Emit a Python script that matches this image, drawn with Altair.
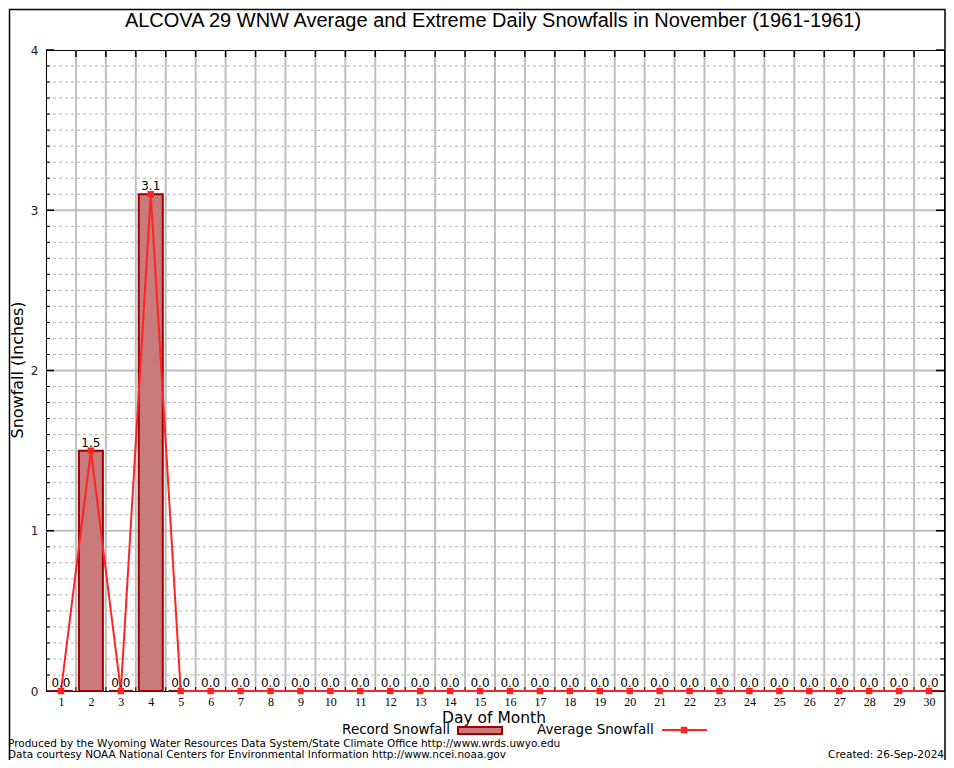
import altair as alt
import pandas as pd

# ---------------- data ----------------
days = [1, 2, 3, 4, 5, 6, 7, 8, 9, 10, 11, 12, 13, 14, 15,
        16, 17, 18, 19, 20, 21, 22, 23, 24, 25, 26, 27, 28, 29, 30]
record = [0.0, 1.5, 0.0, 3.1, 0.0, 0.0, 0.0, 0.0, 0.0, 0.0,
          0.0, 0.0, 0.0, 0.0, 0.0, 0.0, 0.0, 0.0, 0.0, 0.0,
          0.0, 0.0, 0.0, 0.0, 0.0, 0.0, 0.0, 0.0, 0.0, 0.0]
average = [0.0, 1.5, 0.0, 3.1, 0.0, 0.0, 0.0, 0.0, 0.0, 0.0,
           0.0, 0.0, 0.0, 0.0, 0.0, 0.0, 0.0, 0.0, 0.0, 0.0,
           0.0, 0.0, 0.0, 0.0, 0.0, 0.0, 0.0, 0.0, 0.0, 0.0]
y_major = [0, 1, 2, 3, 4]
y_minor = [round(i * 0.1, 1) for i in range(1, 40) if i % 10 != 0]
x_bounds = [d + 0.5 for d in days[:-1]]

title_text = "ALCOVA 29 WNW Average and Extreme Daily Snowfalls in November (1961-1961)"
footer1 = "Produced by the Wyoming Water Resources Data System/State Climate Office http://www.wrds.uwyo.edu"
footer2 = "Data courtesy NOAA National Centers for Environmental Information http://www.ncei.noaa.gov"
created = "Created: 26-Sep-2024"

W, H = 898, 641
RED = "#ff2424"
BAR_FILL = "#c97a7a"
BAR_STROKE = "#a00000"
GRID = "#bebebe"
SANS = "DejaVu Sans"

df = pd.DataFrame({"day": days, "record": record, "average": average,
                   "label": [f"{v:.1f}" for v in record]})

xs = alt.Scale(domain=[0.5, 30.5], nice=False, zero=False, padding=0)
ys = alt.Scale(domain=[0, 4], nice=False, zero=True, padding=0)
xaxis = alt.Axis(values=days, ticks=False, grid=False, title=None,
                 labelFont="Liberation Serif", labelFontSize=12, labelColor="black",
                 labelPadding=5, domainColor="black", domainWidth=1,
                 labelOverlap=False, labelFlush=False)
yaxis = alt.Axis(values=y_major, ticks=False, grid=False, title=None, format="d",
                 labelFont=SANS, labelFontSize=12, labelColor="#222",
                 labelPadding=8, domainColor="black", domainWidth=1)


def X(field):
    return alt.X(field, type="quantitative", scale=xs, axis=xaxis)


def Y(field):
    return alt.Y(field, type="quantitative", scale=ys, axis=yaxis)


minor_df = pd.DataFrame({"y": y_minor})
major_df = pd.DataFrame({"y": y_major[1:-1]})
major_tick_df = pd.DataFrame({"y": y_major})
bounds_df = pd.DataFrame({"x": x_bounds})

minor_grid = alt.Chart(minor_df).mark_rule(color="#b4b4b4", strokeDash=[3, 3], strokeWidth=1).encode(y=Y("y"))
major_grid = alt.Chart(major_df).mark_rule(color=GRID, strokeWidth=2).encode(y=Y("y"))
vert_grid = alt.Chart(bounds_df).mark_rule(color=GRID, strokeWidth=2).encode(x=X("x"))

top_ticks = alt.Chart(bounds_df).mark_rule(color="black", strokeWidth=1.5).encode(
    x=X("x"), y=alt.value(0), y2=alt.value(7))
bot_ticks = alt.Chart(bounds_df).mark_rule(color="black", strokeWidth=1).encode(
    x=X("x"), y=alt.value(H), y2=alt.value(H - 4))
left_minor = alt.Chart(minor_df).mark_rule(color="black", strokeWidth=1).encode(
    y=Y("y"), x=alt.value(0), x2=alt.value(4))
left_major = alt.Chart(major_tick_df).mark_rule(color="black", strokeWidth=1.5).encode(
    y=Y("y"), x=alt.value(0), x2=alt.value(8))
right_minor = alt.Chart(minor_df).mark_rule(color="black", strokeWidth=1).encode(
    y=Y("y"), x=alt.value(W - 4), x2=alt.value(W))
right_major = alt.Chart(major_tick_df).mark_rule(color="black", strokeWidth=1.5).encode(
    y=Y("y"), x=alt.value(W - 8), x2=alt.value(W))

bars = alt.Chart(df).mark_bar(size=24, fill=BAR_FILL, stroke=BAR_STROKE, strokeWidth=2).encode(
    x=X("day"), y=Y("record"))
line = alt.Chart(df).mark_line(color=RED, strokeWidth=2).encode(x=X("day"), y=Y("average"))
pts = alt.Chart(df).mark_point(shape="square", filled=True, color=RED, size=42, opacity=1).encode(
    x=X("day"), y=Y("average"))
labels = alt.Chart(df).mark_text(font=SANS, fontSize=12, baseline="alphabetic", dy=-4, color="black").encode(
    x=X("day"), y=Y("record"), text="label:N")


def txt(text, x, y, size=12, align="left", font=SANS, angle=0, color="black", baseline="alphabetic"):
    kw = dict(text=text, font=font, fontSize=size, align=align, baseline=baseline, color=color)
    if angle:
        kw["angle"] = angle
    return alt.Chart(df.head(1)).mark_text(**kw).encode(x=alt.value(x), y=alt.value(y))


title = txt(title_text, 447, -23, size=20, align="center", font="Liberation Sans")
ytitle = txt("Snowfall (Inches)", -28, 320, size=16, align="center", angle=270, baseline="middle")
xtitle = txt("Day of Month", 448, 673, size=15.5, align="center")
leg1 = txt("Record Snowfall", 404, 684, size=13.5, align="right")
leg2 = txt("Average Snowfall", 491, 684, size=13.5, align="left")
swatch = alt.Chart(df.head(1)).mark_rect(fill=BAR_FILL, stroke=BAR_STROKE, strokeWidth=2).encode(
    x=alt.value(412), x2=alt.value(456), y=alt.value(677), y2=alt.value(684))
leg_line = alt.Chart(df.head(1)).mark_rule(color=RED, strokeWidth=2).encode(
    x=alt.value(616), x2=alt.value(661), y=alt.value(680))
leg_pt = alt.Chart(df.head(1)).mark_point(shape="square", filled=True, color=RED, size=42, opacity=1).encode(
    x=alt.value(638), y=alt.value(680))
f1 = txt(footer1, -38, 697, size=10.5)
f2 = txt(footer2, -38, 708, size=10.5)
f3 = txt(created, 898, 708, size=10.5, align="right")
frame = alt.Chart(df.head(1)).mark_rect(fill=None, stroke="black", strokeWidth=1.5).encode(
    x=alt.value(-36.5), x2=alt.value(899), y=alt.value(-40.5), y2=alt.value(711))

chart = alt.layer(
    minor_grid, major_grid, vert_grid, top_ticks, bot_ticks,
    left_minor, left_major, right_minor, right_major,
    bars, line, pts, labels,
    title, ytitle, xtitle, leg1, leg2, swatch, leg_line, leg_pt, f1, f2, f3, frame
).properties(
    width=W, height=H,
    padding={"left": 38, "top": 42, "right": 2, "bottom": 69},
    autosize=alt.AutoSizeParams(type="none"),
    background="white",
).configure_view(stroke="black", strokeWidth=1)

chart.save("out.html", embed_options={"renderer": "svg", "actions": False})
